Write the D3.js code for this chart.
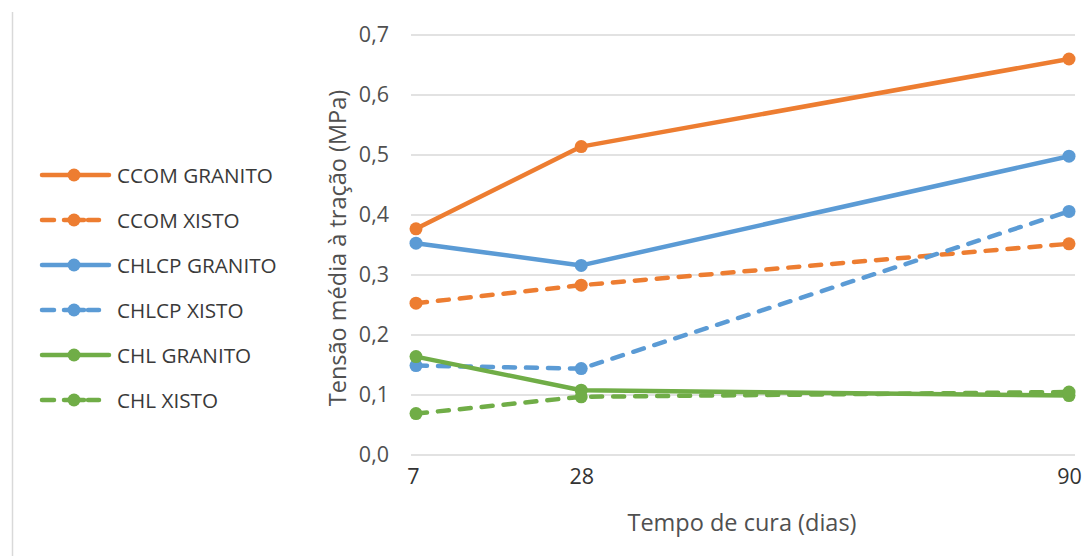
<!DOCTYPE html>
<html>
<head>
<meta charset="utf-8">
<script src="https://cdn.jsdelivr.net/npm/d3@7"></script>
<style>
  html, body { margin: 0; padding: 0; background: #fff; }
  svg { display: block; font-family: "Open Sans", "Liberation Sans", sans-serif; }
</style>
</head>
<body>
<svg id="chart" width="1090" height="556"></svg>
<script>
// Curing times (days) on the x axis
const days = [7, 28, 90];

// Mean tensile stress (MPa) per mix
const ccomGranito  = [0.377, 0.514, 0.660];
const ccomXisto    = [0.253, 0.283, 0.352];
const chlcpGranito = [0.353, 0.316, 0.498];
const chlcpXisto   = [0.149, 0.144, 0.406];
const chlGranito   = [0.164, 0.108, 0.099];
const chlXisto     = [0.069, 0.097, 0.105];

const seriesNames = ["CCOM GRANITO", "CCOM XISTO", "CHLCP GRANITO", "CHLCP XISTO", "CHL GRANITO", "CHL XISTO"];
const seriesValues = [ccomGranito, ccomXisto, chlcpGranito, chlcpXisto, chlGranito, chlXisto];
const seriesColors = ["#ED7D31", "#ED7D31", "#5B9BD5", "#5B9BD5", "#70AD47", "#70AD47"];
const seriesDashed = [false, true, false, true, false, true];

const yTicks = [0, 0.1, 0.2, 0.3, 0.4, 0.5, 0.6, 0.7];

const svg = d3.select("#chart");

const x = d3.scaleLinear().domain([7, 90]).range([416, 1069]);
const y = d3.scaleLinear().domain([0, 0.7]).range([455, 35]);

const fmt = v => d3.format(".1f")(v).replace(".", ",");

// Outer frame edge on the left
svg.append("line")
  .attr("x1", 12.5).attr("x2", 12.5)
  .attr("y1", 12).attr("y2", 556)
  .attr("stroke", "#d9d9d9").attr("stroke-width", 1.5);

// Horizontal gridlines
svg.append("g")
  .selectAll("line")
  .data(yTicks)
  .join("line")
  .attr("x1", 411).attr("x2", 1075)
  .attr("y1", d => y(d)).attr("y2", d => y(d))
  .attr("stroke", "#d9d9d9").attr("stroke-width", 1.5);

// Y axis tick labels
const yAxis = d3.axisLeft(y).tickValues(yTicks).tickFormat(fmt).tickSize(0).tickPadding(0);
const gy = svg.append("g").attr("transform", "translate(389,0)").call(yAxis);
gy.select(".domain").remove();
gy.selectAll("text")
  .attr("font-family", "Open Sans, sans-serif")
  .attr("font-size", 21.5)
  .attr("fill", "#505050");

// X axis tick labels
const xAxis = d3.axisBottom(x).tickValues(days).tickFormat(d3.format("d")).tickSize(0).tickPadding(0);
const gx = svg.append("g").attr("transform", "translate(0,469)").call(xAxis);
gx.select(".domain").remove();
gx.selectAll("text")
  .attr("font-family", "Open Sans, sans-serif")
  .attr("font-size", 21.5)
  .attr("fill", "#333333");
gx.selectAll(".tick").filter(d => d === 7).select("text").attr("dx", -3);
gx.selectAll(".tick").filter(d => d === 90).select("text").attr("dx", 0);

// Axis titles
svg.append("text")
  .attr("x", 742).attr("y", 522)
  .attr("text-anchor", "middle").attr("dominant-baseline", "central")
  .attr("font-size", 23.5).attr("fill", "#505050")
  .text("Tempo de cura (dias)");

svg.append("text")
  .attr("transform", "translate(337,248) rotate(-90)")
  .attr("text-anchor", "middle").attr("dominant-baseline", "central")
  .attr("font-size", 23.5).attr("fill", "#505050")
  .text("Tensão média à tração (MPa)");

// Series lines and markers
const line = d3.line().x((d, i) => x(days[i])).y(d => y(d));

seriesValues.forEach((vals, s) => {
  const g = svg.append("g");
  g.append("path")
    .attr("d", line(vals))
    .attr("fill", "none")
    .attr("stroke", seriesColors[s])
    .attr("stroke-width", 4.5)
    .attr("stroke-linejoin", "round")
    .attr("stroke-linecap", "round")
    .attr("stroke-dasharray", seriesDashed[s] ? "11,11" : null);
  g.selectAll("circle")
    .data(vals)
    .join("circle")
    .attr("cx", (d, i) => x(days[i]))
    .attr("cy", d => y(d))
    .attr("r", 6.5)
    .attr("fill", seriesColors[s]);
});

// Legend
const legend = svg.append("g");
seriesNames.forEach((name, s) => {
  const ly = 175 + s * 45;
  const g = legend.append("g").attr("transform", `translate(0,${ly})`);
  if (seriesDashed[s]) {
    g.append("line").attr("x1", 42).attr("x2", 54).attr("y1", 0).attr("y2", 0)
      .attr("stroke", seriesColors[s]).attr("stroke-width", 4.5).attr("stroke-linecap", "round");
    g.append("line").attr("x1", 64).attr("x2", 84).attr("y1", 0).attr("y2", 0)
      .attr("stroke", seriesColors[s]).attr("stroke-width", 4.5).attr("stroke-linecap", "round");
    g.append("line").attr("x1", 88).attr("x2", 99).attr("y1", 0).attr("y2", 0)
      .attr("stroke", seriesColors[s]).attr("stroke-width", 4.5).attr("stroke-linecap", "round");
  } else {
    g.append("line").attr("x1", 42).attr("x2", 109).attr("y1", 0).attr("y2", 0)
      .attr("stroke", seriesColors[s]).attr("stroke-width", 4.5).attr("stroke-linecap", "round");
  }
  g.append("circle").attr("cx", 74).attr("cy", 0).attr("r", 6.5).attr("fill", seriesColors[s]);
  g.append("text")
    .attr("x", 117).attr("y", 0)
    .attr("dominant-baseline", "central")
    .attr("font-size", 20.7).attr("fill", "#3a3a3a")
    .text(name);
});
</script>
</body>
</html>
